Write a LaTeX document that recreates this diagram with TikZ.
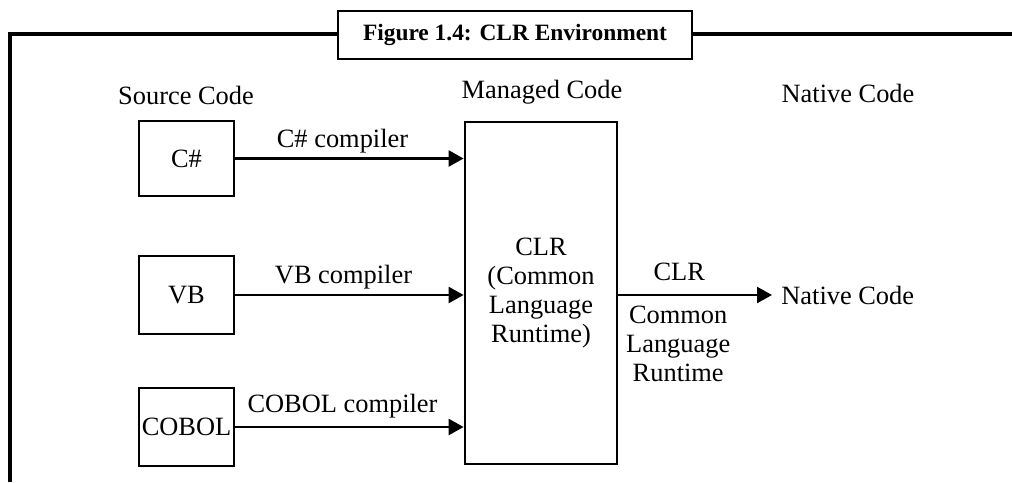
\documentclass[tikz,border=0pt]{standalone}
\usepackage{fontspec}
\setmainfont{Liberation Serif}
\usetikzlibrary{arrows.meta}
\begin{document}
\begin{tikzpicture}[x=0.5pt,y=-0.5pt,
  txt/.style={font=\fontsize{13.2}{14.5}\selectfont, inner sep=0pt, align=center},
  srcbox/.style={draw, line width=1.4pt, minimum width=47.5pt, inner sep=0pt,
    font=\fontsize{13.2}{14.5}\selectfont},
  bigbox/.style={draw, line width=1.4pt, minimum width=76pt, minimum height=171pt,
    inner sep=0pt, align=center, font=\fontsize{13.2}{14.5}\selectfont},
  titlebox/.style={draw, fill=white, line width=1.4pt, minimum width=177pt,
    minimum height=24pt, inner sep=0pt, font=\fontsize{11.7}{13}\selectfont\bfseries},
  frame/.style={line width=1.6pt},
  arr/.style={line width=1.2pt, -{Triangle[length=7.5pt,width=8pt]}},
  lbl/.style={txt, midway}
]
\useasboundingbox (0,0) rectangle (1012,482);

% outer frame with caption box
\draw[frame] (10,482) -- (10,34) -- (1012,34);
\node[titlebox] (title) at (515,35) {Figure 1.4: CLR Environment};

% column headings
\node[txt] (hsrc) at (186,95) {Source Code};
\node[txt] (hman) at (542,92) {Managed Code};
\node[txt] (hnat) at (848,93) {Native Code};

% source language boxes
\node[srcbox, minimum height=37.5pt] (cs) at (186.5,158.5) {C\#};
\node[srcbox, minimum height=39pt] (vb) at (186.5,295) {VB};
\node[srcbox, minimum height=39pt] (cobol) at (186.5,427) {COBOL};

% runtime box
\node[bigbox] (clr) at (541,293) {CLR\\(Common\\Language\\Runtime)};

% output
\node[txt, anchor=west, inner sep=4.5pt] (native) at (772,295) {Native Code};

% compiler arrows
\draw[arr] (cs) -- (cs -| clr.west)
  node[lbl, xshift=-3.5pt, yshift=8.5pt] (lcs) {C\# compiler};
\draw[arr] (vb) -- (vb -| clr.west)
  node[lbl, xshift=-3pt, yshift=9pt] (lvb) {VB compiler};
\draw[arr] (cobol) -- (cobol -| clr.west)
  node[lbl, xshift=-3.5pt, yshift=10.5pt] (lcob) {COBOL compiler};

% runtime to native code
\draw[arr] (clr.east |- native.west) -- (native.west)
  node[lbl, xshift=-8pt, yshift=11.5pt] (lclr) {CLR}
  node[lbl, xshift=-8.5pt, yshift=-24.5pt] (lclr2) {Common\\Language\\Runtime};
\end{tikzpicture}
\end{document}
